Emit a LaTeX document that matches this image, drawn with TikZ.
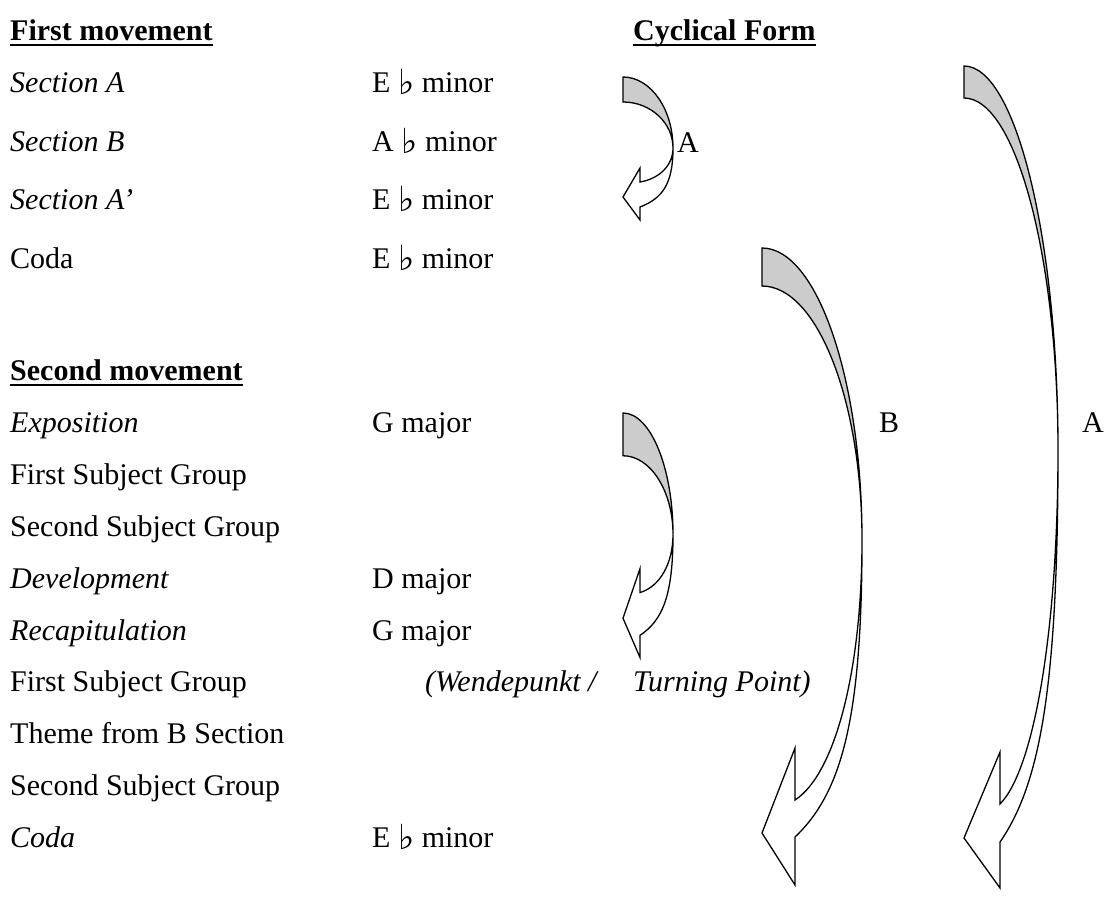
\documentclass[tikz,border=0pt]{standalone}
\usepackage{graphicx}
\usepackage{fontspec}
\setmainfont{Liberation Serif}
\newfontfamily\symfont{DejaVu Sans}
\definecolor{shade}{RGB}{204,204,204}
\newcommand\fl{\raisebox{-2pt}{\scalebox{1.15}{\symfont ♭}}}
\begin{document}
\begin{tikzpicture}[x=1pt,y=-1pt,
  txt/.style={anchor=base west, inner sep=0pt, font=\fontsize{30}{36}\selectfont},
  ital/.style={anchor=base west, inner sep=0pt, font=\fontsize{30}{36}\selectfont\itshape},
  head/.style={anchor=base west, inner sep=0pt, font=\fontsize{30}{36}\selectfont\bfseries},
  back/.style={fill=shade, draw=black, line width=1.3pt, line join=miter},
  front/.style={fill=white, draw=black, line width=1.3pt, line join=miter},
  uline/.style={line width=1.8pt}]
\useasboundingbox (0,0) rectangle (1110,902);

% headings
\node[head] (h1) at (10,40) {First movement};
\node[head] (h2) at (633,40) {Cyclical Form};
\node[head] (h3) at (10,380) {Second movement};
\draw[uline] ([yshift=-5pt]h1.base west) -- ([yshift=-5pt]h1.base east);
\draw[uline] ([yshift=-5pt]h2.base west) -- ([yshift=-5pt]h2.base east);
\draw[uline] ([yshift=-5pt]h3.base west) -- ([yshift=-5pt]h3.base east);

% left column
\node[ital] (l1) at (10,92) {Section A};
\node[ital] (l2) at (10,151) {Section B};
\node[ital] (l3) at (10,209) {Section A’};
\node[txt]  (l4) at (10,268) {Coda};
\node[ital] (m1) at (10,432) {Exposition};
\node[txt]  (m2) at (10,484) {First Subject Group};
\node[txt]  (m3) at (10,536) {Second Subject Group};
\node[ital] (m4) at (10,588) {Development};
\node[ital] (m5) at (10,640) {Recapitulation};
\node[txt]  (m6) at (10,691) {First Subject Group};
\node[txt]  (m7) at (10,743) {Theme from B Section};
\node[txt]  (m8) at (10,795) {Second Subject Group};
\node[ital] (m9) at (10,847) {Coda};

% key column
\node[txt] (k1) at (372,92) {E \fl{} minor};
\node[txt] (k2) at (372,151) {A \fl{} minor};
\node[txt] (k3) at (372,209) {E \fl{} minor};
\node[txt] (k4) at (372,268) {E \fl{} minor};
\node[txt] (k5) at (372,432) {G major};
\node[txt] (k6) at (372,588) {D major};
\node[txt] (k7) at (372,640) {G major};
\node[ital] (w1) at (425,691) {(Wendepunkt /};
\node[ital] (w2) at (633,691) {Turning Point)};
\node[txt] (k8) at (372,847) {E \fl{} minor};

% small arrows
\newcommand\smallarrow{%
  \draw[back] (623,77) .. controls (650.5,77) and (673,109) .. (673,148)
     .. controls (673,122.7) and (650.5,102) .. (623,102) -- cycle;
  \draw[front] (673,148) .. controls (673,165) and (659.8,178.6) .. (640,182)
     -- (640,168) -- (623,197) -- (640,220) -- (640,207)
     .. controls (662.8,198.2) and (673,183.4) .. (673,148) -- cycle;}
\smallarrow
\begin{scope}[shift={(0,413)},yscale=1.71,shift={(0,-77)}]
\smallarrow
\end{scope}

% big arrow B
\draw[back] (762,248) .. controls (817,248) and (862,379.4) .. (862,540)
   .. controls (862,400.3) and (817,286) .. (762,286) -- cycle;
\draw[front] (862,540) .. controls (862,670) and (835.2,774) .. (795,800)
   -- (795,748) -- (762,833) -- (795,885) -- (795,837)
   .. controls (841.9,792.5) and (862,718.2) .. (862,540) -- cycle;

% big arrow A
\draw[back] (964,66) .. controls (1015.7,66) and (1058,238.8) .. (1058,450)
   .. controls (1058,256.4) and (1015.7,98) .. (964,98) -- cycle;
\draw[front] (1058,450) .. controls (1058,627) and (1034.8,768.6) .. (1000,804)
   -- (1000,752) -- (964,838) -- (1000,888) -- (1000,842)
   .. controls (1040.6,783.2) and (1058,685.2) .. (1058,450) -- cycle;

% arrow labels
\node[txt] (la1) at (677,152) {A};
\node[txt] (lb) at (879,432) {B};
\node[txt] (la2) at (1082,432) {A};
\end{tikzpicture}
\end{document}
